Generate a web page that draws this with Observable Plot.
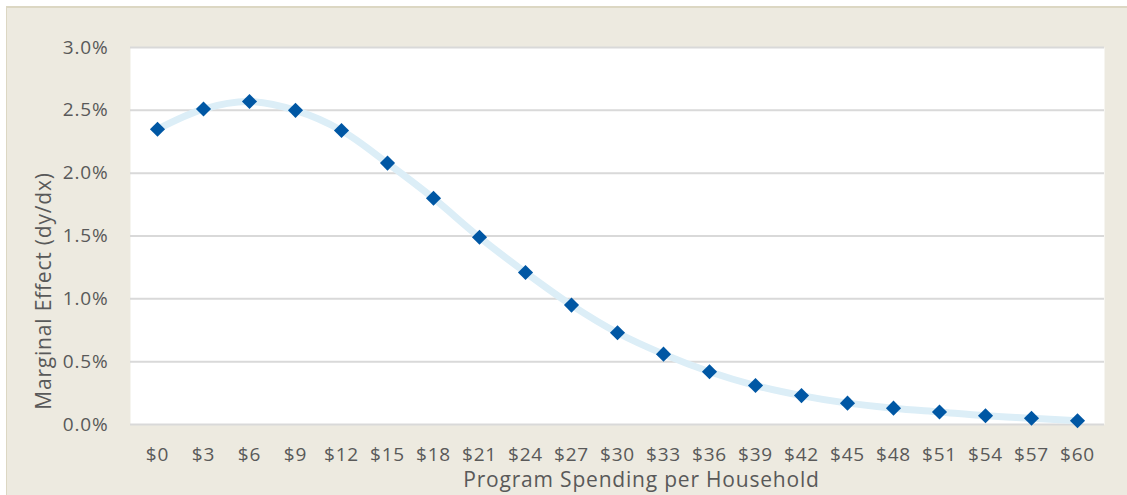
<!DOCTYPE html>
<html>
<head>
<meta charset="utf-8">
<script src="https://cdn.jsdelivr.net/npm/d3@7"></script>
<script src="https://cdn.jsdelivr.net/npm/@observablehq/plot@0.6"></script>
<style>
  html, body { margin: 0; padding: 0; background: #ffffff; }
  #panel {
    position: absolute; left: 6px; top: 6px; width: 1121px; height: 489px;
    background: #EDEAE0;
    border-top: 2px solid #DCD7C3;
    border-left: 1px solid #DCD7C3;
    box-sizing: border-box;
  }
  #chart { position: absolute; left: 0; top: 0; }
  #chart svg text { letter-spacing: 0.8px; }
  #chart svg .title-text { letter-spacing: 1.2px; }
</style>
</head>
<body>
<div id="panel"></div>
<div id="chart"></div>
<script>
// Spending levels per household (dollars) and the marginal effect at each level
const spending = [0, 3, 6, 9, 12, 15, 18, 21, 24, 27, 30, 33, 36, 39, 42, 45, 48, 51, 54, 57, 60];
const marginalEffect = [0.0235, 0.0251, 0.0257, 0.0250, 0.0234, 0.0208, 0.0180, 0.0149, 0.0121, 0.0095,
  0.0073, 0.0056, 0.0042, 0.0031, 0.0023, 0.0017, 0.0013, 0.0010, 0.0007, 0.0005, 0.0003];
const yTicks = [0, 0.005, 0.01, 0.015, 0.02, 0.025, 0.03];
const xTitle = "Program Spending per Household";
const yTitle = "Marginal Effect (dy/dx)";

const rows = spending.map((s, i) => ({ label: "$" + s, value: marginalEffect[i] }));
const labels = rows.map(d => d.label);

const font = "'Open Sans', Lato, sans-serif";
const grey = "#595959";

const chart = Plot.plot({
  width: 1127,
  height: 495,
  marginLeft: 130,
  marginRight: 23,
  marginTop: 47,
  marginBottom: 71,
  style: { background: "transparent", fontFamily: font, fontSize: "19px", color: grey },
  x: { type: "point", domain: labels, padding: 0.5 },
  y: { domain: [0, 0.03] },
  marks: [
    Plot.frame({ fill: "white", stroke: null }),
    Plot.ruleY(yTicks, { stroke: "#D9D9D9", strokeWidth: 2 }),
    Plot.axisY({
      ticks: yTicks, tickFormat: d3.format(".1%"), tickSize: 0, tickPadding: 22,
      label: null, fontSize: 19, fill: grey
    }),
    Plot.axisX({ tickSize: 0, tickPadding: 23, label: null, fontSize: 19, fill: grey }),
    // axis titles
    Plot.text([yTitle], {
      text: d => d, frameAnchor: "left", textAnchor: "middle", rotate: -90, dx: -86, dy: 55,
      fontSize: 21, fill: grey, className: "title-text"
    }),
    Plot.text([xTitle], {
      text: d => d, frameAnchor: "bottom", dx: 24, dy: 56, lineAnchor: "middle",
      fontSize: 21, fill: grey, className: "title-text"
    }),
    Plot.line(rows, { x: "label", y: "value", stroke: "#DCEEF7", strokeWidth: 7, curve: "catmull-rom" }),
    Plot.dot(rows, { x: "label", y: "value", symbol: "diamond2", r: 6.8, fill: "#0057A4", stroke: null })
  ]
});
document.getElementById("chart").appendChild(chart);
</script>
</body>
</html>
